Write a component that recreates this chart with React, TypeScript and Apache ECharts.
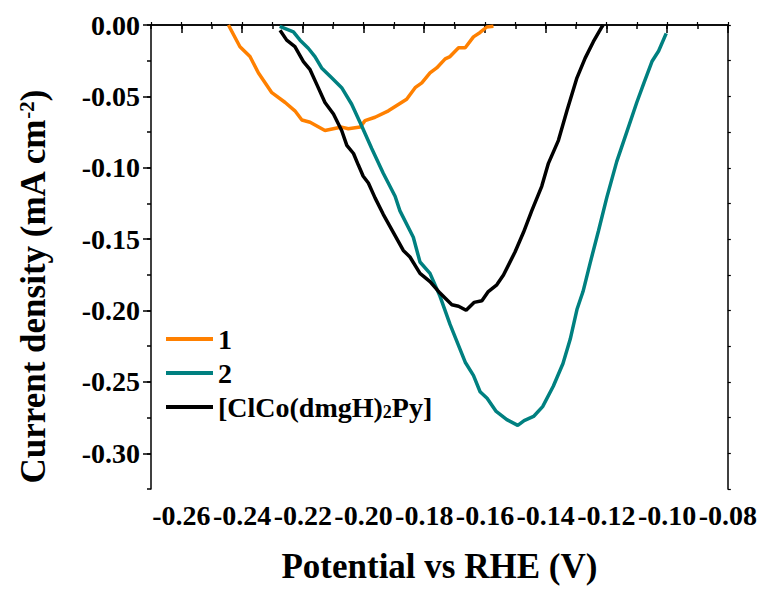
import React, { useEffect, useRef } from "react";
import * as echarts from "echarts";

// Potential (V vs RHE) and current density (mA cm^-2) for each sample
const potential1 = [-0.2445, -0.2407, -0.2374, -0.2346, -0.2302, -0.2258, -0.2226, -0.2203, -0.2176, -0.2127, -0.2072, -0.205, -0.2011, -0.1995, -0.1962, -0.1918, -0.1858, -0.183, -0.1808, -0.1781, -0.1759, -0.1731, -0.1715, -0.1687, -0.1665, -0.1638, -0.1616, -0.1594, -0.1572];
const current1 = [0.0, -0.0152, -0.0221, -0.0336, -0.0474, -0.0543, -0.0601, -0.0665, -0.0681, -0.0739, -0.0715, -0.0727, -0.0715, -0.067, -0.0646, -0.0601, -0.052, -0.0439, -0.0405, -0.0336, -0.0301, -0.0237, -0.0221, -0.0159, -0.0159, -0.0083, -0.0052, -0.0014, -0.0009];

const potential2 = [-0.2276, -0.2231, -0.2209, -0.2182, -0.216, -0.2138, -0.2105, -0.2072, -0.2039, -0.2006, -0.1973, -0.1935, -0.1896, -0.188, -0.1836, -0.1814, -0.1781, -0.1748, -0.1715, -0.1665, -0.1638, -0.1616, -0.1593, -0.1563, -0.1528, -0.1492, -0.1471, -0.144, -0.141, -0.1375, -0.1343, -0.1319, -0.1297, -0.1277, -0.1254, -0.1226, -0.1199, -0.1166, -0.1133, -0.11, -0.1076, -0.105, -0.1028, -0.1003];
const current2 = [-0.001, -0.0048, -0.0106, -0.0163, -0.0221, -0.0301, -0.037, -0.0439, -0.0555, -0.0707, -0.0865, -0.1038, -0.1199, -0.1302, -0.1487, -0.166, -0.174, -0.1901, -0.2097, -0.2362, -0.2454, -0.2569, -0.2615, -0.2707, -0.2764, -0.2804, -0.2771, -0.2742, -0.2673, -0.253, -0.2371, -0.22, -0.1993, -0.1867, -0.1671, -0.1441, -0.1211, -0.0957, -0.075, -0.0543, -0.0403, -0.0256, -0.0182, -0.0059];

const potential3 = [-0.2275, -0.2253, -0.2226, -0.2198, -0.2176, -0.2154, -0.2127, -0.2099, -0.2072, -0.2055, -0.2033, -0.2017, -0.2001, -0.1984, -0.1962, -0.1935, -0.1902, -0.1869, -0.1847, -0.1814, -0.1781, -0.1748, -0.1709, -0.1687, -0.1662, -0.1636, -0.161, -0.1589, -0.1561, -0.1539, -0.1501, -0.1473, -0.1446, -0.1413, -0.1391, -0.1358, -0.133, -0.1297, -0.127, -0.1243, -0.1215, -0.1211];
const current3 = [-0.0037, -0.0106, -0.0152, -0.0256, -0.0313, -0.0416, -0.0543, -0.0624, -0.0739, -0.0843, -0.09, -0.0981, -0.1059, -0.1107, -0.1211, -0.1326, -0.1452, -0.1579, -0.1625, -0.174, -0.1798, -0.1878, -0.1959, -0.197, -0.1998, -0.1943, -0.1932, -0.1867, -0.182, -0.1751, -0.159, -0.1452, -0.1302, -0.113, -0.0969, -0.0808, -0.0601, -0.037, -0.0232, -0.0117, -0.0014, 0.0];

const seriesNames = ["1", "2", "[ClCo(dmgH)2Py]"];
const seriesColors = ["#FF8000", "#008080", "#000000"];

const xLabelTicks = [-0.26, -0.24, -0.22, -0.2, -0.18, -0.16, -0.14, -0.12, -0.1, -0.08];
const yLabelTicks = [0, -0.05, -0.1, -0.15, -0.2, -0.25, -0.3];

const FONT = '"Liberation Serif", "Times New Roman", serif';

const pairs = (xs: number[], ys: number[]) => xs.map((x, i) => [x, ys[i]]);

export default function App() {
  const ref = useRef<HTMLDivElement>(null);

  useEffect(() => {
    if (!ref.current) return;
    const chart = echarts.init(ref.current, null, { renderer: "svg" });

    const axisLine = { show: true, lineStyle: { color: "#000", width: 1.5 } };
    const labelStyle = {
      color: "#000",
      fontFamily: FONT,
      fontWeight: "bold" as const,
      fontSize: 28,
    };

    chart.setOption({
      animation: false,
      backgroundColor: "#fff",
      grid: { left: 151, top: 25, right: 31, bottom: 94, containLabel: false },
      legend: {
        orient: "vertical",
        left: 166,
        top: 325,
        padding: 0,
        itemWidth: 47,
        itemHeight: 4,
        itemGap: 6,
        icon: "rect",
        data: seriesNames,
        formatter: (name: string) =>
          name === "[ClCo(dmgH)2Py]" ? "[ClCo(dmgH){sub|2}Py]" : name,
        textStyle: {
          ...labelStyle,
          fontSize: 28,
          lineHeight: 28,
          rich: {
            sub: {
              fontFamily: FONT,
              fontWeight: "bold",
              fontSize: 18,
              color: "#000",
              verticalAlign: "bottom",
              padding: [12, 0, 0, 0],
            },
          },
        },
      },
      xAxis: [
        {
          type: "value",
          min: -0.27,
          max: -0.08,
          position: "bottom",
          name: "Potential vs RHE (V)",
          nameLocation: "middle",
          nameGap: 60,
          nameTextStyle: { ...labelStyle, fontSize: 35 },
          axisLine,
          axisTick: {
            show: true,
            customValues: xLabelTicks,
            length: 8,
            lineStyle: { color: "#000", width: 1.5 },
          },
          axisLabel: {
            ...labelStyle,
            customValues: xLabelTicks,
            margin: 12,
            formatter: (v: number) => v.toFixed(2),
          },
          splitLine: { show: false },
        },
        {
          type: "value",
          min: -0.27,
          max: -0.08,
          interval: 0.01,
          position: "bottom",
          axisLine: { show: false },
          axisTick: { show: true, length: 4, lineStyle: { color: "#000", width: 1.5 } },
          axisLabel: { show: false },
          splitLine: { show: false },
        },
        {
          type: "value",
          min: -0.27,
          max: -0.08,
          interval: 0.01,
          position: "top",
          axisLine,
          axisTick: { show: true, length: 3, lineStyle: { color: "#000", width: 1.2 } },
          axisLabel: { show: false },
          splitLine: { show: false },
        },
      ],
      yAxis: [
        {
          type: "value",
          min: -0.325,
          max: 0,
          position: "left",
          name: "Current density (mA cm{sup|-2})",
          nameLocation: "middle",
          nameRotate: 90,
          nameGap: 100,
          nameTextStyle: {
            ...labelStyle,
            fontSize: 35,
            padding: [0, 60, 0, 0],
            rich: {
              sup: {
                fontFamily: FONT,
                fontWeight: "bold",
                fontSize: 21,
                color: "#000",
                verticalAlign: "top",
              },
            },
          },
          axisLine,
          axisTick: {
            show: true,
            customValues: yLabelTicks,
            length: 8,
            lineStyle: { color: "#000", width: 1.5 },
          },
          axisLabel: {
            ...labelStyle,
            customValues: yLabelTicks,
            margin: 11,
            formatter: (v: number) => v.toFixed(2),
          },
          splitLine: { show: false },
        },
        {
          type: "value",
          min: -0.325,
          max: 0,
          interval: 0.025,
          position: "left",
          axisLine: { show: false },
          axisTick: { show: true, length: 4, lineStyle: { color: "#000", width: 1.5 } },
          axisLabel: { show: false },
          splitLine: { show: false },
        },
        {
          type: "value",
          min: -0.325,
          max: 0,
          interval: 0.025,
          position: "right",
          axisLine,
          axisTick: { show: true, length: 3, lineStyle: { color: "#000", width: 1.2 } },
          axisLabel: { show: false },
          splitLine: { show: false },
        },
      ],
      series: [
        [potential1, current1],
        [potential2, current2],
        [potential3, current3],
      ].map(([xs, ys], i) => ({
        name: seriesNames[i],
        type: "line",
        xAxisIndex: 0,
        yAxisIndex: 0,
        data: pairs(xs, ys),
        showSymbol: false,
        symbol: "none",
        smooth: false,
        color: seriesColors[i],
        lineStyle: { color: seriesColors[i], width: 3.5 },
      })),
    });

    return () => chart.dispose();
  }, []);

  return (
    <div
      ref={ref}
      style={{ position: "fixed", left: 0, top: 0, width: 760, height: 589 }}
    />
  );
}
